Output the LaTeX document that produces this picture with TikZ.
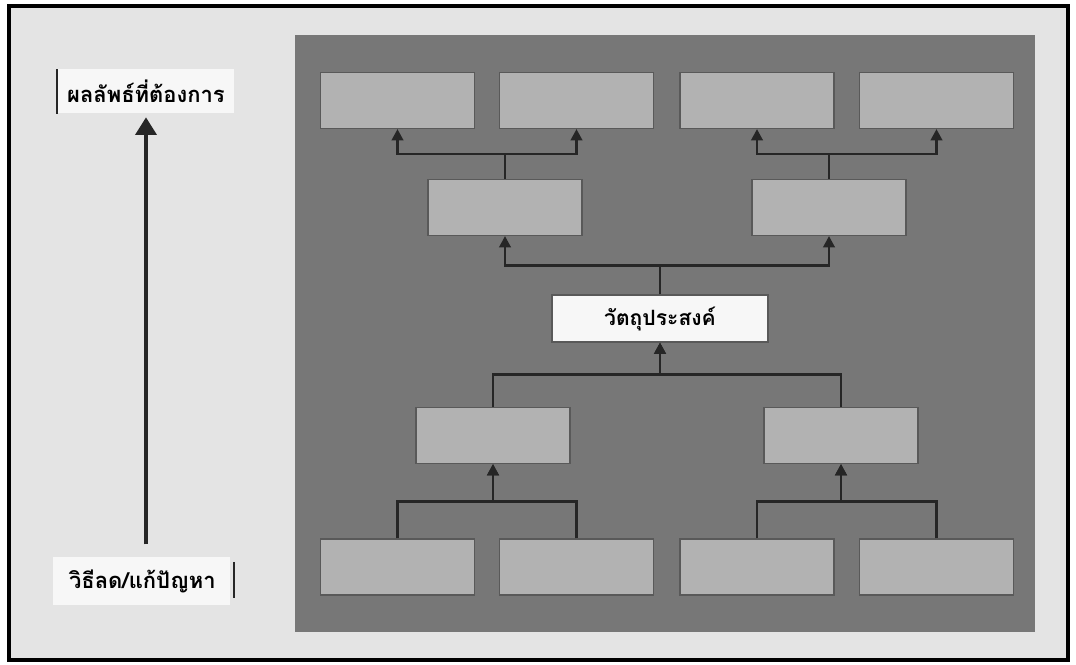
\documentclass[tikz,border=0pt]{standalone}
\usepackage{fontspec}
\newfontfamily\thaifont[Script=Thai]{Loma}
\usetikzlibrary{calc, positioning, arrows.meta}

\definecolor{pagegray}{HTML}{E4E4E4}
\definecolor{panelgray}{HTML}{777777}
\definecolor{cellgray}{HTML}{B2B2B2}
\definecolor{linegray}{HTML}{262626}

\tikzset{
    cell/.style={draw=black!65, line width=0.6pt, fill=cellgray, minimum width=3.08cm, minimum height=1.12cm, inner sep=0pt},
    goal/.style={draw=black!65, line width=0.6pt, fill=white!97!black, minimum width=4.32cm, minimum height=0.94cm, inner sep=0pt, font=\thaifont\bfseries\fontsize{12}{14}\selectfont},
    tag/.style={fill=white!97!black, minimum width=3.54cm, minimum height=0.88cm, inner sep=0pt, font=\thaifont\bfseries\fontsize{12.5}{15}\selectfont},
    link/.style={draw=linegray, line width=1.6pt, -{Triangle[width=6.5pt, length=6.5pt]}},
    bar/.style={draw=linegray, line width=1.5pt},
}

\begin{document}
\begin{tikzpicture}[x=0.02cm, y=-0.02cm]
    \useasboundingbox (0,0) rectangle (1076,665);
    \fill[white] (0,0) rectangle (1076,665);
    \draw[line width=2.4pt, fill=pagegray] (9,6) rectangle (1068,660);
    \fill[panelgray] (295,35) rectangle (1035,632);

    % boxes, row by row
    \foreach \x [count=\i] in {397.5, 576.5, 757, 936.5} {
        \node[cell] (r1-\i) at (\x,100.5) {};
        \node[cell] (r4-\i) at (\x,567) {};
    }
    \foreach \x [count=\i] in {505, 829}
        \node[cell] (r2-\i) at (\x,207.5) {};
    \foreach \x [count=\i] in {493, 841}
        \node[cell] (r3-\i) at (\x,435.5) {};
    \node[goal] (obj) at (660,318.5) {วัตถุประสงค์};

    \foreach \a/\b in {r2-1/r1-1, r2-1/r1-2, r2-2/r1-3, r2-2/r1-4, obj/r2-1, obj/r2-2,
                       r3-1/obj, r3-2/obj, r4-1/r3-1, r4-2/r3-1, r4-3/r3-2, r4-4/r3-2}
        \draw[link] (\a.north) |- ($(\a.north)!.5!(\b.south)$) -| (\b.south);

    % left side
    \node[tag] (want) at (146,91.5) {ผลลัพธ์ที่ต้องการ};
    \draw[bar] (want.north west) -- (want.south west);
    \node[tag, minimum height=0.96cm, text width=2.9cm, align=right] (way) at (141.5,581) {วิธีลด/แก้ปัญหา};
    \draw[bar] ([xshift=2pt, yshift=-3pt]way.north east) -- ([xshift=2pt, yshift=4pt]way.south east);
    \draw[line width=1.9pt, draw=linegray, -{Triangle[width=12pt, length=10pt]}, shorten <=7pt, shorten >=2pt]
        (way.north -| want.south) -- (want.south);
\end{tikzpicture}
\end{document}
